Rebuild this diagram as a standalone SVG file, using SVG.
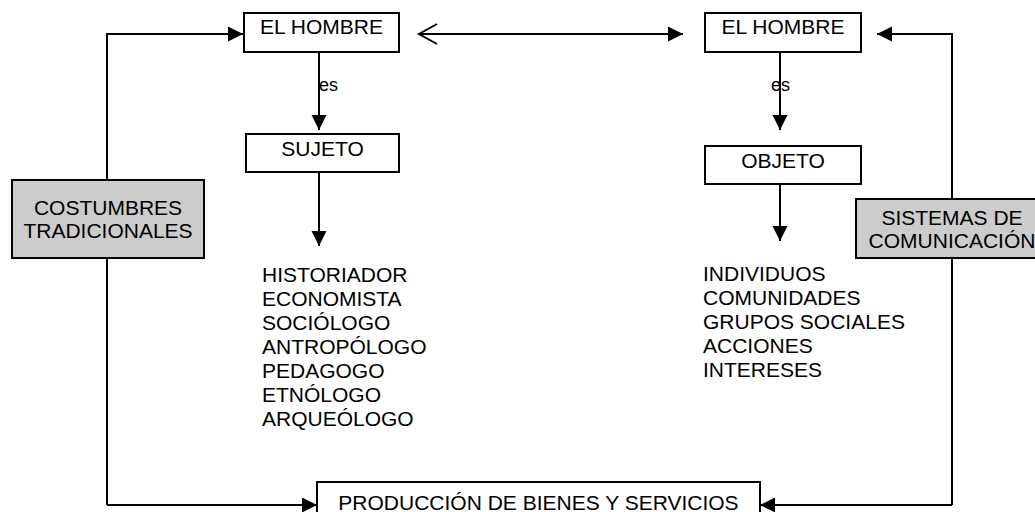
<svg xmlns="http://www.w3.org/2000/svg" width="1035" height="512" viewBox="0 0 1035 512">
<style>
.box{fill:#ffffff;stroke:#000;stroke-width:2}
.gray{fill:#cccccc;stroke:#000;stroke-width:2}
.t{font-family:"Liberation Sans",Arial,sans-serif;font-size:21px;fill:#000}
.c{text-anchor:middle}
.s{font-family:"Liberation Sans",Arial,sans-serif;font-size:18px;fill:#000}
.ln{fill:none;stroke:#000;stroke-width:2}
</style>
<defs>
<marker id="ah" markerUnits="userSpaceOnUse" markerWidth="16" markerHeight="16" refX="15" refY="7.5" orient="auto">
<path d="M0,0 L15,7.5 L0,15 z" fill="#000"/>
</marker>
<marker id="open" markerUnits="userSpaceOnUse" markerWidth="22" markerHeight="24" refX="19" refY="11" orient="auto-start-reverse">
<path d="M1,1 L19,11 L1,21" fill="none" stroke="#000" stroke-width="2"/>
</marker>
</defs>
<g id="connectors">
<path class="ln" d="M107,505 L107,34 L243,34" marker-end="url(#ah)"/>
<path class="ln" d="M107,505 L317,505" marker-end="url(#ah)"/>
<path class="ln" d="M952,505 L952,34 L877,34" marker-end="url(#ah)"/>
<path class="ln" d="M952,505 L760,505" marker-end="url(#ah)"/>
<path class="ln" d="M419,34 L683,34" marker-start="url(#open)" marker-end="url(#ah)"/>
<path class="ln" d="M319,52 L319,130" marker-end="url(#ah)"/>
<path class="ln" d="M319,172 L319,246" marker-end="url(#ah)"/>
<path class="ln" d="M780,52 L780,130" marker-end="url(#ah)"/>
<path class="ln" d="M780,184 L780,241" marker-end="url(#ah)"/>
<text class="s" x="319" y="91">es</text>
<text class="s" x="771" y="91">es</text>
</g>
<g id="hombre1">
<rect class="box" x="244" y="13" width="155" height="39"/>
<text class="t c" x="321.5" y="34">EL HOMBRE</text>
</g>
<g id="hombre2">
<rect class="box" x="705" y="13" width="156" height="39"/>
<text class="t c" x="783" y="34">EL HOMBRE</text>
</g>
<g id="sujeto">
<rect class="box" x="246" y="134" width="153" height="38"/>
<text class="t c" x="322.5" y="156">SUJETO</text>
</g>
<g id="objeto">
<rect class="box" x="705" y="146" width="156" height="38"/>
<text class="t c" x="783" y="168">OBJETO</text>
</g>
<g id="costumbres">
<rect class="gray" x="12" y="180" width="192" height="78"/>
<text class="t c" x="108" y="215">COSTUMBRES</text>
<text class="t c" x="108" y="238">TRADICIONALES</text>
</g>
<g id="sistemas">
<rect class="gray" x="856" y="199" width="192" height="59"/>
<text class="t c" x="952" y="225">SISTEMAS DE</text>
<text class="t c" x="952" y="248">COMUNICACIÓN</text>
</g>
<g id="lista-sujeto">
<text class="t" x="262" y="282">HISTORIADOR</text>
<text class="t" x="262" y="306">ECONOMISTA</text>
<text class="t" x="262" y="330">SOCIÓLOGO</text>
<text class="t" x="262" y="354">ANTROPÓLOGO</text>
<text class="t" x="262" y="378">PEDAGOGO</text>
<text class="t" x="262" y="402">ETNÓLOGO</text>
<text class="t" x="262" y="426">ARQUEÓLOGO</text>
</g>
<g id="lista-objeto">
<text class="t" x="703" y="281">INDIVIDUOS</text>
<text class="t" x="703" y="305">COMUNIDADES</text>
<text class="t" x="703" y="329">GRUPOS SOCIALES</text>
<text class="t" x="703" y="353">ACCIONES</text>
<text class="t" x="703" y="377">INTERESES</text>
</g>
<g id="produccion">
<rect class="box" x="317" y="482" width="443" height="50"/>
<text class="t c" x="538.5" y="510">PRODUCCIÓN DE BIENES Y SERVICIOS</text>
</g>
</svg>
